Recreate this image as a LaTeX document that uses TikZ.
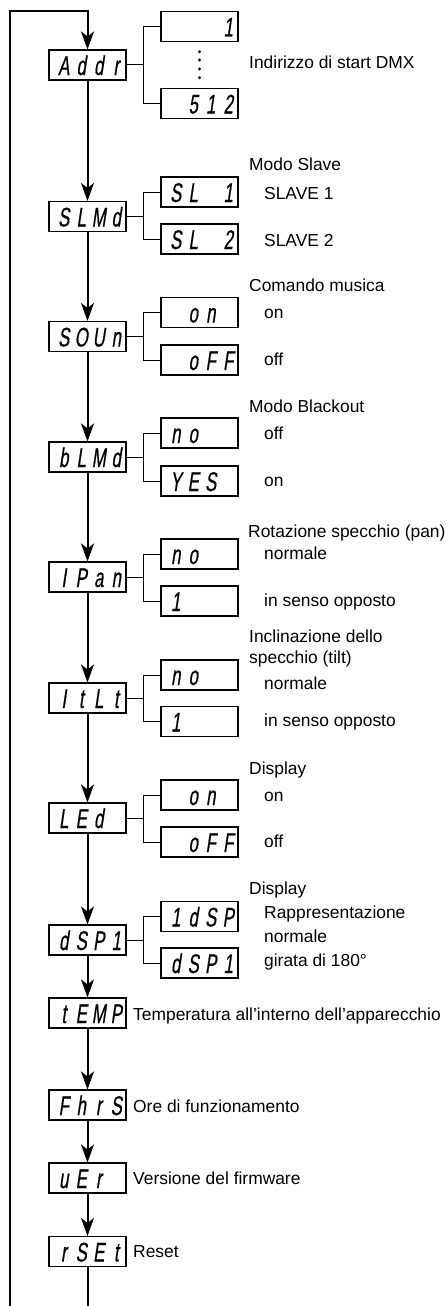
\documentclass[tikz,border=0pt]{standalone}
\usepackage{fontspec}
\setmainfont{Liberation Sans}
\newfontfamily\segfont{Liberation Sans}[FakeStretch=0.62,FakeSlant=0.15,FakeBold=0.6]
\usetikzlibrary{arrows.meta}
\newcommand{\sgcell}[1]{\makebox[17.5pt][c]{#1}}
\newcommand{\sgtext}[4]{\segfont\fontsize{27}{27}\selectfont\hspace{5pt}\sgcell{#1}\sgcell{#2}\sgcell{#3}\sgcell{#4}}
\tikzset{
  disp/.style={draw, line width=1.1pt, inner sep=0pt, minimum width=77pt,
    text height=25pt, text depth=5pt, anchor=center},
  lbl/.style={inner sep=0pt, anchor=base west, font=\fontsize{17.4}{21}\selectfont},
  mainline/.style={line width=2pt},
  br/.style={line width=1pt},
  arr/.style={mainline, -{Stealth[length=18pt,width=13pt,inset=5pt]}},
}
\begin{document}
\begin{tikzpicture}[x=1pt,y=-1pt]
\useasboundingbox (0,0) rectangle (447,1306);
% main boxes
\node[disp] (addr) at (87.5,65) {\sgtext{A}{d}{d}{r}};
\node[disp] (slmd) at (87.5,216.5) {\sgtext{S}{L}{M}{d}};
\node[disp] (soun) at (87.5,336.5) {\sgtext{S}{O}{U}{n}};
\node[disp] (blmd) at (87.5,457) {\sgtext{b}{L}{M}{d}};
\node[disp] (ipan) at (87.5,577) {\sgtext{I}{P}{a}{n}};
\node[disp] (itlt) at (87.5,698) {\sgtext{I}{t}{L}{t}};
\node[disp] (led) at (87.5,818) {\sgtext{L}{E}{d}{}};
\node[disp] (dsp) at (87.5,940) {\sgtext{d}{S}{P}{1}};
\node[disp] (temp) at (87.5,1013) {\sgtext{t}{E}{M}{P}};
\node[disp] (fhrs) at (87.5,1105) {\sgtext{F}{h}{r}{S}};
\node[disp] (ver) at (87.5,1178) {\sgtext{u}{E}{r}{}};
\node[disp] (rset) at (87.5,1251.5) {\sgtext{r}{S}{E}{t}};
% sub boxes
\node[disp] (a1) at (199.5,26.5) {\sgtext{}{}{}{1}};
\node[disp] (a2) at (199.5,103.5) {\sgtext{}{5}{1}{2}};
\node[disp] (s1) at (199.5,192) {\sgtext{S}{L}{}{1}};
\node[disp] (s2) at (199.5,239) {\sgtext{S}{L}{}{2}};
\node[disp] (m1) at (199.5,312.5) {\sgtext{}{o}{n}{}};
\node[disp] (m2) at (199.5,360) {\sgtext{}{o}{F}{F}};
\node[disp] (b1) at (199.5,433) {\sgtext{n}{o}{}{}};
\node[disp] (b2) at (199.5,481) {\sgtext{Y}{E}{S}{}};
\node[disp] (p1) at (199.5,554) {\sgtext{n}{o}{}{}};
\node[disp] (p2) at (199.5,601) {\sgtext{1}{}{}{}};
\node[disp] (t1) at (199.5,675) {\sgtext{n}{o}{}{}};
\node[disp] (t2) at (199.5,721.5) {\sgtext{1}{}{}{}};
\node[disp] (l1) at (199.5,795) {\sgtext{}{o}{n}{}};
\node[disp] (l2) at (199.5,842) {\sgtext{}{o}{F}{F}};
\node[disp] (d1) at (199.5,916.5) {\sgtext{1}{d}{S}{P}};
\node[disp] (d2) at (199.5,963) {\sgtext{d}{S}{P}{1}};
% branches
\foreach \m/\u/\v in {addr/a1/a2, slmd/s1/s2, soun/m1/m2, blmd/b1/b2, ipan/p1/p2, itlt/t1/t2, led/l1/l2, dsp/d1/d2}{
  \draw[br] (\m.east) -- +(17,0) |- (\u.west);
  \draw[br] (\m.east) -- +(17,0) |- (\v.west);
}
\foreach \yy in {51.7,60,69,77.7} \fill (199.5,\yy) circle (1.6pt);
% main flow
\coordinate (lb) at (10,1306);
\coordinate (lt) at (10,11);
\coordinate (rb) at (87.5,1306);
\draw[arr] (lb) -- (lt) -| (addr.north);
\draw[arr] (addr.south) -- (slmd.north);
\draw[arr] (slmd.south) -- (soun.north);
\draw[arr] (soun.south) -- (blmd.north);
\draw[arr] (blmd.south) -- (ipan.north);
\draw[arr] (ipan.south) -- (itlt.north);
\draw[arr] (itlt.south) -- (led.north);
\draw[arr] (led.south) -- (dsp.north);
\draw[arr] (dsp.south) -- (temp.north);
\draw[arr] (temp.south) -- (fhrs.north);
\draw[arr] (fhrs.south) -- (ver.north);
\draw[arr] (ver.south) -- (rset.north);
\draw[mainline] (rset.south) -- (rb);
% labels
\node[lbl] (x1) at (249,69) {Indirizzo di start DMX};
\node[lbl] (x2) at (249,170) {Modo Slave};
\node[lbl] (x3) at (264,199) {SLAVE 1};
\node[lbl] (x4) at (264,246) {SLAVE 2};
\node[lbl] (x5) at (249,291) {Comando musica};
\node[lbl] (x6) at (264,318) {on};
\node[lbl] (x7) at (264,365) {off};
\node[lbl] (x8) at (249,412.7) {Modo Blackout};
\node[lbl] (x9) at (264,439) {off};
\node[lbl] (x10) at (264,486.7) {on};
\node[lbl] (x11) at (248,537) {Rotazione specchio (pan)};
\node[lbl] (x12) at (264,559.3) {normale};
\node[lbl] (x13) at (264,606.7) {in senso opposto};
\node[lbl] (x14) at (249,642) {Inclinazione dello};
\node[lbl] (x15) at (249,663) {specchio (tilt)};
\node[lbl] (x16) at (264,689) {normale};
\node[lbl] (x17) at (264,726.7) {in senso opposto};
\node[lbl] (x18) at (249,774) {Display};
\node[lbl] (x19) at (264,801.7) {on};
\node[lbl] (x20) at (264,847) {off};
\node[lbl] (x21) at (249,894) {Display};
\node[lbl] (x22) at (264,918) {Rappresentazione};
\node[lbl] (x23) at (264,942.7) {normale};
\node[lbl] (x24) at (264,966.7) {girata di 180°};
\node[lbl] (x25) at (133,1020) {Temperatura all’interno dell’apparecchio};
\node[lbl] (x26) at (133,1112) {Ore di funzionamento};
\node[lbl] (x27) at (133,1184) {Versione del firmware};
\node[lbl] (x28) at (133,1257) {Reset};
\end{tikzpicture}
\end{document}
